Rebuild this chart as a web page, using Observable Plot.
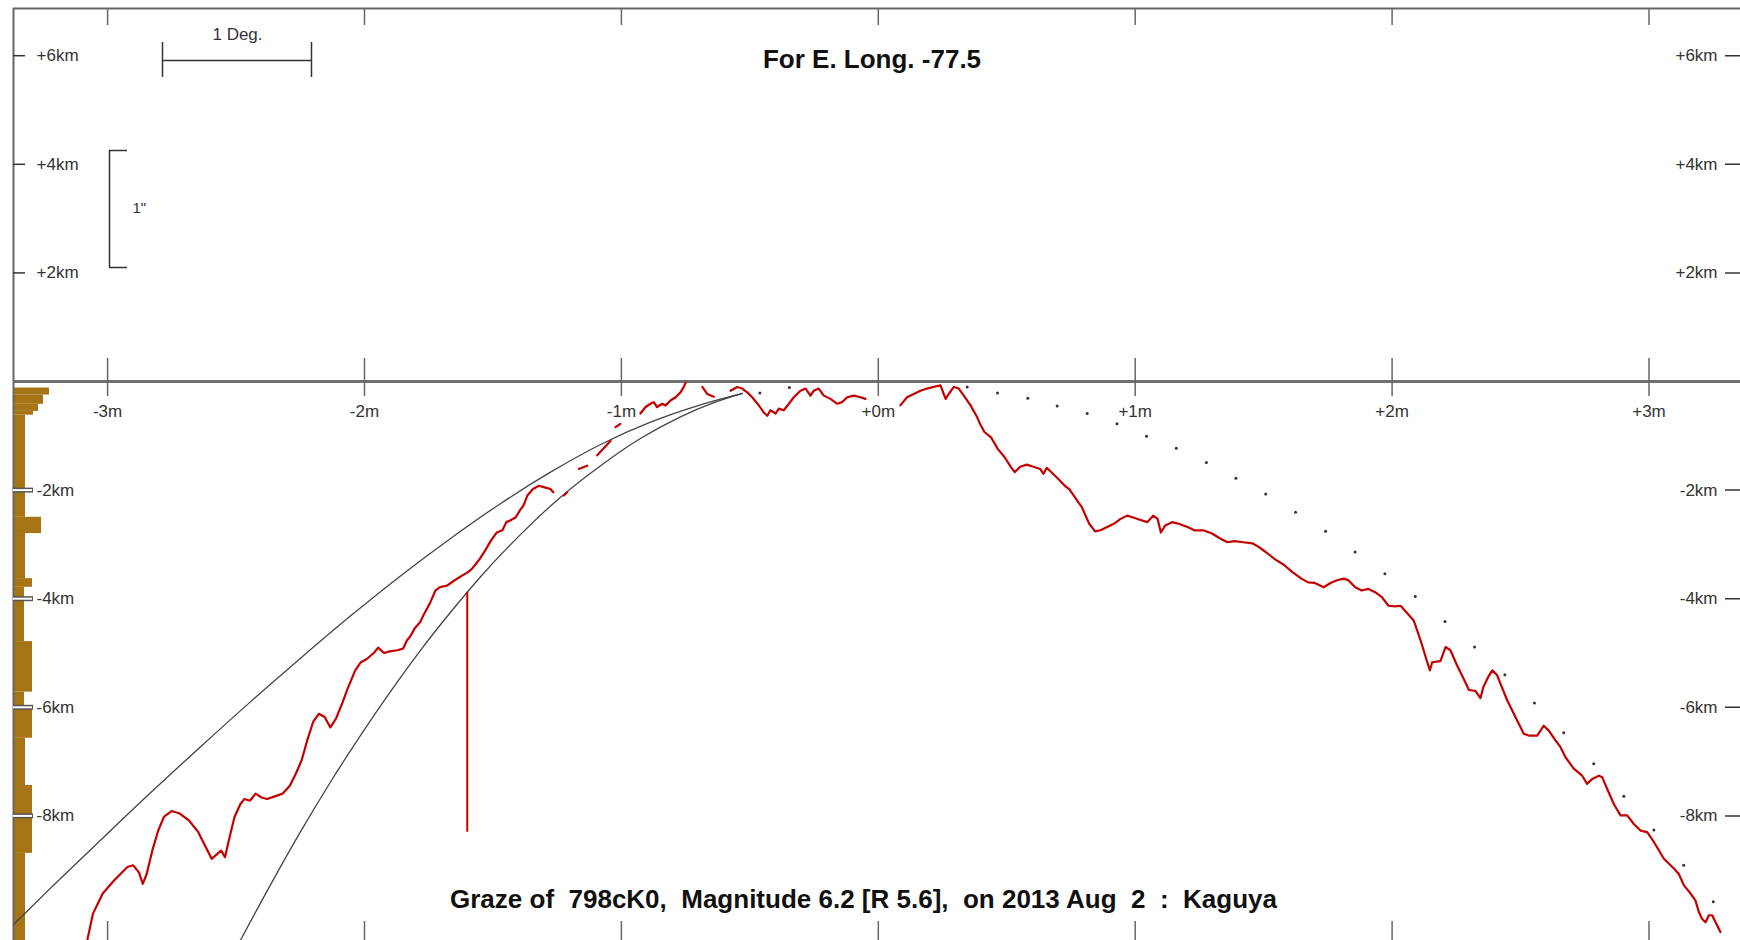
<!DOCTYPE html>
<html><head><meta charset="utf-8">
<script src="https://cdn.jsdelivr.net/npm/d3@7"></script>
<script src="https://cdn.jsdelivr.net/npm/@observablehq/plot@0.6"></script>
<style>
body{margin:0;background:#fff}
svg{display:block}
</style>
</head><body><div id="chart"></div>
<script>
// ---------- DATA ----------
const minuteTicks = [-3, -2, -1, 0, 1, 2, 3];
const minuteLabels = ["-3m", "-2m", "-1m", "+0m", "+1m", "+2m", "+3m"];
const kmTicksUpper = [6, 4, 2];
const kmLabelsUpper = ["+6km", "+4km", "+2km"];
const kmTicksLower = [-2, -4, -6, -8];
const kmLabelsLower = ["-2km", "-4km", "-6km", "-8km"];

const titleTop = "For E. Long. -77.5";
const titleBottom = "Graze of\u00a0 798cK0,\u00a0 Magnitude 6.2 [R 5.6],\u00a0 on 2013 Aug\u00a0 2\u00a0 :\u00a0 Kaguya";

// limb profile (minutes, km), separate drawn pieces
const profileLeft = [[-3.079,-10.29],[-3.057,-9.80],[-3.019,-9.43],[-2.975,-9.19],[-2.923,-8.94],[-2.900,-8.91],[-2.878,-9.04],[-2.863,-9.25],[-2.848,-9.07],[-2.826,-8.64],[-2.803,-8.27],[-2.781,-8.02],[-2.751,-7.91],[-2.722,-7.95],[-2.684,-8.08],[-2.647,-8.30],[-2.617,-8.58],[-2.595,-8.79],[-2.573,-8.70],[-2.558,-8.64],[-2.543,-8.76],[-2.528,-8.45],[-2.506,-8.02],[-2.483,-7.78],[-2.468,-7.69],[-2.446,-7.72],[-2.424,-7.59],[-2.401,-7.66],[-2.379,-7.69],[-2.349,-7.64],[-2.319,-7.59],[-2.290,-7.44],[-2.267,-7.22],[-2.245,-6.98],[-2.223,-6.61],[-2.200,-6.27],[-2.178,-6.12],[-2.155,-6.18],[-2.133,-6.37],[-2.111,-6.21],[-2.088,-5.94],[-2.066,-5.66],[-2.036,-5.32],[-2.014,-5.17],[-1.991,-5.11],[-1.962,-4.99],[-1.947,-4.90],[-1.924,-5.00],[-1.902,-4.97],[-1.872,-4.95],[-1.850,-4.92],[-1.835,-4.77],[-1.820,-4.68],[-1.805,-4.55],[-1.783,-4.43],[-1.768,-4.28],[-1.746,-4.09],[-1.724,-3.85],[-1.708,-3.79],[-1.679,-3.76],[-1.649,-3.66],[-1.619,-3.57],[-1.597,-3.51],[-1.582,-3.45],[-1.567,-3.36],[-1.552,-3.27],[-1.530,-3.11],[-1.508,-2.93],[-1.485,-2.78],[-1.463,-2.74],[-1.448,-2.59],[-1.433,-2.56],[-1.411,-2.50],[-1.396,-2.38],[-1.381,-2.28],[-1.366,-2.10],[-1.344,-1.98],[-1.321,-1.92],[-1.299,-1.95],[-1.276,-1.98],[-1.265,-2.04]];
const profileDashes = [
  [[-1.224,-2.10],[-1.211,-2.04]],
  [[-1.166,-1.61],[-1.133,-1.55]],
  [[-1.094,-1.36],[-1.042,-1.09]],
  [[-1.023,-0.84],[-1.004,-0.78]]
];
const profileNearAxisA = [[-0.926,-0.59],[-0.906,-0.47],[-0.887,-0.41],[-0.874,-0.38],[-0.861,-0.47],[-0.841,-0.41],[-0.828,-0.44],[-0.809,-0.35],[-0.789,-0.29],[-0.770,-0.20],[-0.757,-0.10],[-0.750,-0.02]];
const profileNearAxisB = [[-0.685,-0.10],[-0.666,-0.23],[-0.640,-0.28]];
const profileNearAxisC = [[-0.575,-0.17],[-0.549,-0.10],[-0.530,-0.13],[-0.510,-0.20],[-0.491,-0.29],[-0.465,-0.44],[-0.446,-0.57],[-0.432,-0.63],[-0.420,-0.53],[-0.400,-0.59],[-0.387,-0.50],[-0.368,-0.53],[-0.348,-0.41],[-0.329,-0.29],[-0.303,-0.17],[-0.283,-0.13],[-0.264,-0.26],[-0.251,-0.17],[-0.232,-0.13],[-0.212,-0.26],[-0.186,-0.32],[-0.160,-0.41],[-0.141,-0.38],[-0.121,-0.29],[-0.095,-0.26],[-0.069,-0.29],[-0.050,-0.32]];
const profileRight = [[0.086,-0.44],[0.112,-0.29],[0.138,-0.23],[0.164,-0.17],[0.190,-0.13],[0.216,-0.10],[0.242,-0.07],[0.262,-0.32],[0.274,-0.23],[0.294,-0.10],[0.313,-0.13],[0.333,-0.26],[0.359,-0.44],[0.385,-0.66],
 [0.396,-0.78],[0.413,-0.93],[0.439,-1.03],[0.465,-1.24],[0.491,-1.39],[0.517,-1.58],[0.531,-1.67],[0.552,-1.57],[0.578,-1.53],[0.604,-1.57],[0.630,-1.61],[0.643,-1.70],[0.656,-1.59],[0.674,-1.67],[0.700,-1.79],[0.726,-1.92],[0.743,-1.98],[0.761,-2.10],[0.778,-2.22],[0.792,-2.31],[0.804,-2.44],[0.821,-2.62],[0.844,-2.76],[0.865,-2.74],[0.891,-2.68],[0.917,-2.62],[0.943,-2.53],[0.969,-2.47],[0.995,-2.51],[1.021,-2.55],[1.047,-2.59],[1.070,-2.47],[1.087,-2.53],[1.100,-2.78],[1.117,-2.65],[1.143,-2.59],[1.169,-2.62],[1.204,-2.68],[1.230,-2.74],[1.265,-2.74],[1.299,-2.80],[1.334,-2.90],[1.360,-2.96],[1.386,-2.94],[1.421,-2.96],[1.456,-2.98],[1.482,-3.05],[1.508,-3.14],[1.543,-3.27],[1.577,-3.37],[1.612,-3.51],[1.647,-3.63],[1.673,-3.70],[1.699,-3.71],[1.734,-3.79],[1.760,-3.71],[1.786,-3.66],[1.812,-3.63],[1.830,-3.66],[1.856,-3.79],[1.882,-3.85],[1.908,-3.82],[1.934,-3.88],[1.960,-3.97],[1.986,-4.13],[2.012,-4.14],
 [2.033,-4.13],[2.084,-4.40],[2.111,-4.77],[2.137,-5.17],[2.147,-5.32],[2.156,-5.17],[2.188,-5.15],[2.208,-4.89],[2.227,-4.95],[2.253,-5.23],[2.279,-5.48],[2.299,-5.68],[2.325,-5.70],[2.344,-5.83],[2.355,-5.63],[2.373,-5.45],[2.390,-5.32],[2.409,-5.41],[2.422,-5.57],[2.448,-5.87],[2.480,-6.18],[2.513,-6.49],[2.532,-6.52],[2.565,-6.52],[2.590,-6.34],[2.610,-6.43],[2.636,-6.61],[2.655,-6.73],[2.675,-6.92],[2.707,-7.13],[2.740,-7.26],[2.759,-7.41],[2.779,-7.32],[2.805,-7.26],[2.818,-7.29],[2.837,-7.50],[2.863,-7.78],[2.889,-7.99],[2.915,-7.99],[2.941,-8.15],[2.967,-8.27],[2.993,-8.30],[3.019,-8.48],[3.058,-8.79],[3.097,-8.97],[3.116,-9.07],[3.136,-9.28],[3.162,-9.43],[3.181,-9.56],[3.194,-9.77],[3.207,-9.90],[3.220,-9.96],[3.233,-9.83],[3.246,-9.83],[3.259,-9.96],[3.278,-10.14]];

// mean-limb dots (minutes, km)
const limbDots = [[-0.461,-0.21],[-0.346,-0.11],[0.346,-0.10],[0.464,-0.21],[0.582,-0.31],[0.696,-0.45],[0.813,-0.59],[0.929,-0.78],[1.044,-1.01],[1.160,-1.23],[1.277,-1.49],[1.392,-1.78],[1.508,-2.07],[1.624,-2.41],[1.741,-2.76],[1.856,-3.14],[1.972,-3.54],[2.090,-3.96],[2.206,-4.42],[2.321,-4.89],[2.439,-5.40],[2.554,-5.92],[2.668,-6.47],[2.785,-7.04],[2.902,-7.64],[3.019,-8.26],[3.135,-8.91],[3.250,-9.58]];

// limb-correction envelope arcs (minutes, km)
const outerArc = [[-3.366,-10.00],[-3.222,-9.33],[-3.028,-8.45],[-2.834,-7.58],[-2.639,-6.73],[-2.444,-5.90],[-2.250,-5.10],[-2.055,-4.32],[-1.860,-3.58],[-1.665,-2.89],[-1.471,-2.25],[-1.276,-1.67],[-1.081,-1.16],[-0.887,-0.75],[-0.692,-0.43],[-0.529,-0.22]];
const innerArc = [[-2.483,-10.29],[-2.366,-9.27],[-2.250,-8.30],[-2.133,-7.38],[-2.016,-6.52],[-1.899,-5.71],[-1.782,-4.95],[-1.665,-4.25],[-1.549,-3.60],[-1.393,-2.82],[-1.237,-2.13],[-1.081,-1.55],[-0.926,-1.05],[-0.770,-0.65],[-0.645,-0.40],[-0.529,-0.22]];

// observed event
const eventMinute = -1.600;
const eventKm = [-3.88, -8.30];

// left-edge histogram: km bin edges and bar lengths
const histEdges = [-0.12,-0.25,-0.42,-0.55,-0.62,-2.50,-2.80,-3.63,-3.79,-4.79,-5.72,-6.02,-6.57,-7.44,-8.69,-10.3];
const histCounts = [36,30,25,20,12,28,12,19,11,19,11,19,12,19,12];

// ---------- LAYOUT ----------
const W = 1740, H = 940;
const PX_PER_MIN = 256.9, PX_PER_KM = 54.3, X0 = 877.8, Y0 = 381;
const mx = px => (px - X0) / PX_PER_MIN;   // pixel -> minutes
const ky = py => (Y0 - py) / PX_PER_KM;    // pixel -> km
const RED = "#c40000", FRAME = "#666", INK = "#333", BROWN = "#a67415";
const LEFT = mx(13), RIGHT = mx(1760), TOP = ky(8), BOTTOM = ky(960);

const profile = [];
[profileLeft, ...profileDashes, profileNearAxisA, profileNearAxisB, profileNearAxisC, profileRight]
  .forEach((seg, s) => seg.forEach(([m, km]) => profile.push({m, km, seg: s})));

const hist = histCounts.map((c, i) => ({top: histEdges[i], bottom: histEdges[i + 1], count: c}));
const xLab = minuteTicks.map((m, i) => ({m, label: minuteLabels[i]}));
const kmUp = kmTicksUpper.map((k, i) => ({k, label: kmLabelsUpper[i]}));
const kmLo = kmTicksLower.map((k, i) => ({k, label: kmLabelsLower[i]}));
const kmAll = [...kmUp, ...kmLo];

const chart = Plot.plot({
  width: W, height: H, margin: 0,
  x: {domain: [mx(0), mx(W)], axis: null},
  y: {domain: [ky(H), ky(0)], axis: null},
  style: {fontFamily: "'Liberation Sans', Arial, sans-serif", fontSize: "17px", background: "#fff", color: INK},
  marks: [
    // histogram on the left edge
    Plot.rect(hist, {x1: LEFT, x2: d => LEFT + d.count / PX_PER_MIN, y1: "top", y2: "bottom", fill: BROWN}),
    // frame
    Plot.ruleX([LEFT], {y1: TOP, y2: BOTTOM, stroke: FRAME, strokeWidth: 2}),
    Plot.ruleY([TOP], {x1: LEFT, x2: RIGHT, stroke: FRAME, strokeWidth: 2}),
    Plot.ruleY([0], {x1: LEFT, x2: RIGHT, stroke: "#707070", strokeWidth: 3}),
    // minute ticks (top, divider, bottom)
    Plot.ruleX(minuteTicks, {y1: TOP, y2: ky(25), stroke: FRAME, strokeWidth: 1.5}),
    Plot.ruleX(minuteTicks, {y1: ky(358), y2: ky(396), stroke: FRAME, strokeWidth: 1.5}),
    Plot.ruleX(minuteTicks, {y1: ky(921), y2: BOTTOM, stroke: FRAME, strokeWidth: 1.5}),
    // km ticks left
    Plot.ruleY(kmTicksUpper, {x1: LEFT, x2: mx(25), stroke: INK, strokeWidth: 1.5}),
    Plot.ruleY(kmTicksLower, {x1: LEFT, x2: mx(33), stroke: "#555", strokeWidth: 5}),
    Plot.ruleY(kmTicksLower, {x1: LEFT, x2: mx(32), stroke: "#fff", strokeWidth: 2}),
    // km ticks right
    Plot.ruleY([...kmTicksUpper, ...kmTicksLower], {x1: mx(1725), x2: RIGHT, stroke: INK, strokeWidth: 1.5}),
    // envelope arcs
    Plot.line(outerArc, {x: d => d[0], y: d => d[1], stroke: "#444", strokeWidth: 1.3, curve: "monotone-x"}),
    Plot.line(innerArc, {x: d => d[0], y: d => d[1], stroke: "#444", strokeWidth: 1.3, curve: "monotone-x"}),
    // mean limb dots
    Plot.dot(limbDots, {x: d => d[0], y: d => d[1], r: 1.5, fill: "#333", stroke: null}),
    // profile
    Plot.line(profile, {x: "m", y: "km", z: "seg", stroke: RED, strokeWidth: 2.2, strokeLinejoin: "round"}),
    // event
    Plot.ruleX([eventMinute], {y1: eventKm[0], y2: eventKm[1], stroke: RED, strokeWidth: 2}),
    // axis labels
    Plot.text(xLab, {x: "m", y: 0, dy: 30, text: "label", fill: INK, fontSize: 17}),
    Plot.text(kmAll, {x: LEFT, y: "k", dx: 23, text: "label", textAnchor: "start", fill: INK, fontSize: 17}),
    Plot.text(kmAll, {x: mx(W), y: "k", dx: -23, text: "label", textAnchor: "end", fill: INK, fontSize: 17}),
    // scale annotations
    Plot.ruleY([ky(60)], {x1: mx(162), x2: mx(311), stroke: INK, strokeWidth: 1.5}),
    Plot.ruleX([mx(162), mx(311)], {y1: ky(42), y2: ky(77), stroke: INK, strokeWidth: 1.5}),
    Plot.text(["1 Deg."], {x: mx(237), y: ky(34), text: d => d, fill: INK, fontSize: 17}),
    Plot.ruleX([mx(109)], {y1: ky(150), y2: ky(267), stroke: INK, strokeWidth: 1.5}),
    Plot.ruleY([ky(150), ky(267)], {x1: mx(109), x2: mx(127), stroke: INK, strokeWidth: 1.5}),
    Plot.text(["1\""], {x: mx(132), y: ky(208), text: d => d, textAnchor: "start", fill: INK, fontSize: 15}),
    // titles
    Plot.text([titleTop], {x: mx(871.5), y: ky(59), text: d => d, fontWeight: "bold", fontSize: 26, fill: "#111"}),
    Plot.text([titleBottom], {x: mx(863), y: ky(899), text: d => d, fontWeight: "bold", fontSize: 26, fill: "#111"})
  ]
});
document.getElementById("chart").appendChild(chart);
</script>
</body></html>
